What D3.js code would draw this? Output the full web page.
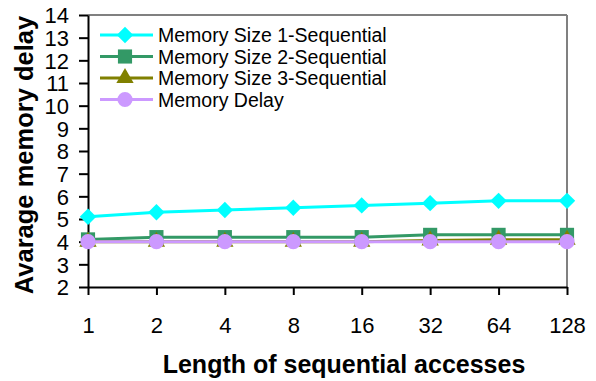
<!DOCTYPE html>
<html>
<head>
<meta charset="utf-8">
<script src="https://cdn.jsdelivr.net/npm/d3@7"></script>
<style>
  body { margin: 0; background: #fff; }
  svg text { font-family: "Liberation Sans", Arial, sans-serif; }
</style>
</head>
<body>
<div id="chart"></div>
<script>
// data
const lengths = ["1", "2", "4", "8", "16", "32", "64", "128"];
const seqSize1 = [5.1, 5.3, 5.4, 5.5, 5.6, 5.7, 5.8, 5.8];
const seqSize2 = [4.1, 4.2, 4.2, 4.2, 4.2, 4.3, 4.3, 4.3];
const seqSize3 = [4.0, 4.0, 4.0, 4.0, 4.0, 4.05, 4.08, 4.08];
const memDelay = [4.0, 4.0, 4.0, 4.0, 4.0, 4.0, 4.0, 4.0];
const seriesNames = ["Memory Size 1-Sequential", "Memory Size 2-Sequential", "Memory Size 3-Sequential", "Memory Delay"];
const yTicks = d3.range(2, 15);

// excel-style diamond: a square turned 45 degrees
const series = [
  { name: seriesNames[0], values: seqSize1, color: "#00FFFF", symbol: d3.symbolSquare, size: 135, rot: 45 },
  { name: seriesNames[1], values: seqSize2, color: "#339966", symbol: d3.symbolSquare, size: 200, rot: 0 },
  { name: seriesNames[2], values: seqSize3, color: "#808000", symbol: d3.symbolTriangle, size: 130, rot: 0 },
  { name: seriesNames[3], values: memDelay, color: "#CC99FF", symbol: d3.symbolCircle, size: 180, rot: 0 }
];

const W = 596, H = 381;
const svg = d3.select("#chart").append("svg")
  .attr("width", W)
  .attr("height", H);

const plotL = 88, plotR = 567, plotT = 15, plotB = 287;

const x = d3.scalePoint()
  .domain(lengths)
  .range([plotL, plotR]);

const y = d3.scaleLinear()
  .domain([2, 14])
  .range([plotB, plotT]);

// plot frame (top/right in grey)
svg.append("line")
  .attr("x1", plotL).attr("x2", plotR)
  .attr("y1", plotT).attr("y2", plotT)
  .attr("stroke", "#808080").attr("stroke-width", 2);
svg.append("line")
  .attr("x1", plotR).attr("x2", plotR)
  .attr("y1", plotT).attr("y2", plotB)
  .attr("stroke", "#808080").attr("stroke-width", 2);

// axes
const xAxis = svg.append("g")
  .attr("transform", `translate(0,${plotB})`)
  .call(d3.axisBottom(x).tickSizeInner(8).tickSizeOuter(0).tickPadding(10));
const yAxis = svg.append("g")
  .attr("transform", `translate(${plotL},0)`)
  .call(d3.axisLeft(y).tickValues(yTicks).tickSizeInner(9).tickSizeOuter(0).tickPadding(10));

[xAxis, yAxis].forEach(g => {
  g.select(".domain").attr("stroke", "#000").attr("stroke-width", 2);
  g.selectAll(".tick line").attr("stroke", "#000").attr("stroke-width", 2);
});
xAxis.selectAll(".tick text")
  .attr("fill", "#000")
  .style("font-size", "22px")
  .attr("dy", null)
  .attr("y", 46);
yAxis.selectAll(".tick text")
  .attr("fill", "#000")
  .style("font-size", "22px")
  .attr("dy", "0.36em");

// series lines and markers
const line = d3.line()
  .x((d, i) => x(lengths[i]))
  .y(d => y(d));

series.forEach(s => {
  svg.append("path")
    .datum(s.values)
    .attr("fill", "none")
    .attr("stroke", s.color)
    .attr("stroke-width", 3)
    .attr("d", line);
});
series.forEach(s => {
  svg.append("g")
    .selectAll("path")
    .data(s.values)
    .join("path")
    .attr("transform", (d, i) => `translate(${x(lengths[i])},${y(d)}) rotate(${s.rot})`)
    .attr("d", d3.symbol().type(s.symbol).size(s.size))
    .attr("fill", s.color);
});

// legend
const legend = svg.append("g").attr("transform", "translate(100,35)");
series.forEach((s, i) => {
  const row = legend.append("g").attr("transform", `translate(0,${i * 21.5})`);
  row.append("line")
    .attr("x1", 0).attr("x2", 53)
    .attr("stroke", s.color).attr("stroke-width", 3);
  row.append("path")
    .attr("transform", `translate(25,0) rotate(${s.rot})`)
    .attr("d", d3.symbol().type(s.symbol).size(s.size))
    .attr("fill", s.color);
  row.append("text")
    .attr("x", 58)
    .attr("dy", "0.36em")
    .style("font-size", "19.5px")
    .text(s.name);
});

// axis titles
svg.append("text")
  .attr("x", 344)
  .attr("y", 373)
  .attr("text-anchor", "middle")
  .style("font-size", "25px")
  .style("font-weight", "bold")
  .text("Length of sequential accesses");

svg.append("text")
  .attr("transform", "translate(33,155) rotate(-90)")
  .attr("text-anchor", "middle")
  .style("font-size", "25.5px")
  .style("font-weight", "bold")
  .text("Avarage memory delay");
</script>
</body>
</html>
